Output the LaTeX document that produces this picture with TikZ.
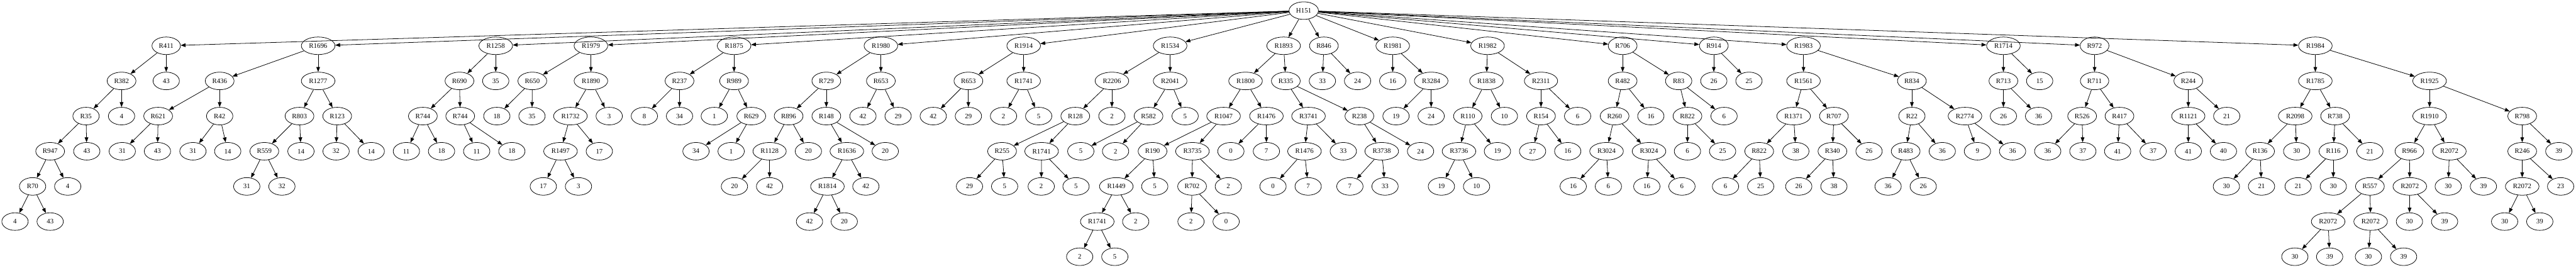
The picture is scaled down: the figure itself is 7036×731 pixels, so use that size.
\documentclass[tikz,border=0pt]{standalone}
\usepackage{fontspec}
\setmainfont{Liberation Serif}
\usetikzlibrary{shapes.geometric,arrows.meta}
\tikzset{
 nd/.style={draw, ellipse, line width=1pt, minimum width=54pt, minimum height=36pt, inner xsep=5.7pt, inner ysep=2pt, font=\fontsize{14pt}{16pt}\selectfont},
 lnk/.style={draw, line width=1pt, -{Triangle[length=10pt,width=7.5pt]}}
}
\newcommand\gvn[4]{\node[nd] (#1) at (#3,#4) {#2};}
\newcommand\gve[2]{\draw[lnk] (#1) -- (#2);}
\begin{document}
\begin{tikzpicture}[x=0.75pt,y=-0.75pt]
\useasboundingbox (0,0) rectangle (7036,731);
\gvn{r}{H151}{3561}{29}
% A
\gvn{a}{R411}{454}{125}
\gvn{a1}{R382}{332}{221}
\gvn{a11}{R35}{235}{317}
\gvn{a111}{R947}{137}{413}
\gvn{a1111}{R70}{89}{509}
\gvn{a11111}{4}{41}{605}
\gvn{a11112}{43}{137}{605}
\gvn{a1112}{4}{185}{509}
\gvn{a112}{43}{237}{413}
\gvn{a12}{4}{332}{317}
\gvn{a2}{43}{454}{221}
\gve{r}{a}\gve{a}{a1}\gve{a}{a2}\gve{a1}{a11}\gve{a1}{a12}\gve{a11}{a111}\gve{a11}{a112}
\gve{a111}{a1111}\gve{a111}{a1112}\gve{a1111}{a11111}\gve{a1111}{a11112}
% B
\gvn{b}{R1696}{869}{125}
\gvn{b1}{R436}{600}{221}
\gvn{b11}{R621}{432}{317}
\gvn{b111}{31}{334}{413}
\gvn{b112}{43}{430}{413}
\gvn{b12}{R42}{600}{317}
\gvn{b121}{31}{527}{413}
\gvn{b122}{14}{622}{413}
\gvn{b2}{R1277}{869}{221}
\gvn{b21}{R803}{818}{317}
\gvn{b211}{R559}{722}{413}
\gvn{b2111}{31}{674}{509}
\gvn{b2112}{32}{770}{509}
\gvn{b212}{14}{822}{413}
\gvn{b22}{R123}{921}{317}
\gvn{b221}{32}{918}{413}
\gvn{b222}{14}{1014}{413}
\gve{r}{b}\gve{b}{b1}\gve{b}{b2}\gve{b1}{b11}\gve{b1}{b12}\gve{b11}{b111}\gve{b11}{b112}
\gve{b12}{b121}\gve{b12}{b122}\gve{b2}{b21}\gve{b2}{b22}\gve{b21}{b211}\gve{b21}{b212}
\gve{b211}{b2111}\gve{b211}{b2112}\gve{b22}{b221}\gve{b22}{b222}
% C
\gvn{c}{R1258}{1354}{125}
\gvn{c1}{R690}{1255}{221}
\gvn{c11}{R744}{1155}{317}
\gvn{c111}{11}{1110}{413}
\gvn{c112}{18}{1206}{413}
\gvn{c12}{R744}{1257}{317}
\gvn{c121}{11}{1302}{413}
\gvn{c122}{18}{1398}{413}
\gvn{c2}{35}{1354}{221}
\gve{r}{c}\gve{c}{c1}\gve{c}{c2}\gve{c1}{c11}\gve{c1}{c12}\gve{c11}{c111}\gve{c11}{c112}
\gve{c12}{c121}\gve{c12}{c122}
% D
\gvn{d}{R1979}{1614}{125}
\gvn{d1}{R650}{1454}{221}
\gvn{d11}{18}{1357}{317}
\gvn{d12}{35}{1453}{317}
\gvn{d2}{R1890}{1614}{221}
\gvn{d21}{R1732}{1558}{317}
\gvn{d211}{R1497}{1531}{413}
\gvn{d2111}{17}{1484}{509}
\gvn{d2112}{3}{1580}{509}
\gvn{d212}{17}{1637}{413}
\gvn{d22}{3}{1664}{317}
\gve{r}{d}\gve{d}{d1}\gve{d}{d2}\gve{d1}{d11}\gve{d1}{d12}\gve{d2}{d21}\gve{d2}{d22}
\gve{d21}{d211}\gve{d21}{d212}\gve{d211}{d2111}\gve{d211}{d2112}
% E
\gvn{e}{R1875}{2005}{125}
\gvn{e1}{R237}{1856}{221}
\gvn{e11}{8}{1760}{317}
\gvn{e12}{34}{1856}{317}
\gvn{e2}{R989}{2005}{221}
\gvn{e21}{1}{1951}{317}
\gvn{e22}{R629}{2052}{317}
\gvn{e221}{34}{1901}{413}
\gvn{e222}{1}{1997}{413}
\gve{r}{e}\gve{e}{e1}\gve{e}{e2}\gve{e1}{e11}\gve{e1}{e12}\gve{e2}{e21}\gve{e2}{e22}
\gve{e22}{e221}\gve{e22}{e222}
% F
\gvn{f}{R1980}{2406}{125}
\gvn{f1}{R729}{2257}{221}
\gvn{f11}{R896}{2154}{317}
\gvn{f111}{R1128}{2102}{413}
\gvn{f1111}{20}{2006}{509}
\gvn{f1112}{42}{2102}{509}
\gvn{f112}{20}{2208}{413}
\gvn{f12}{R148}{2257}{317}
\gvn{f121}{R1636}{2313}{413}
\gvn{f1211}{R1814}{2260}{509}
\gvn{f12111}{42}{2211}{605}
\gvn{f12112}{20}{2306}{605}
\gvn{f1212}{42}{2365}{509}
\gvn{f122}{20}{2418}{413}
\gvn{f2}{R653}{2406}{221}
\gvn{f21}{42}{2357}{317}
\gvn{f22}{29}{2453}{317}
\gve{r}{f}\gve{f}{f1}\gve{f}{f2}\gve{f1}{f11}\gve{f1}{f12}\gve{f11}{f111}\gve{f11}{f112}
\gve{f111}{f1111}\gve{f111}{f1112}\gve{f12}{f121}\gve{f12}{f122}\gve{f121}{f1211}\gve{f121}{f1212}
\gve{f1211}{f12111}\gve{f1211}{f12112}\gve{f2}{f21}\gve{f2}{f22}
% G
\gvn{g}{R1914}{2796}{125}
\gvn{g1}{R653}{2645}{221}
\gvn{g11}{42}{2549}{317}
\gvn{g12}{29}{2645}{317}
\gvn{g2}{R1741}{2796}{221}
\gvn{g21}{2}{2741}{317}
\gvn{g22}{5}{2837}{317}
\gve{r}{g}\gve{g}{g1}\gve{g}{g2}\gve{g1}{g11}\gve{g1}{g12}\gve{g2}{g21}\gve{g2}{g22}
% H
\gvn{h}{R1534}{3196}{125}
\gvn{h1}{R2206}{3037}{221}
\gvn{h11}{R128}{2937}{317}
\gvn{h111}{R255}{2737}{413}
\gvn{h1111}{29}{2648}{509}
\gvn{h1112}{5}{2744}{509}
\gvn{h112}{R1741}{2845}{413}
\gvn{h1121}{2}{2844}{509}
\gvn{h1122}{5}{2939}{509}
\gvn{h12}{2}{3037}{317}
\gvn{h2}{R2041}{3196}{221}
\gvn{h21}{R582}{3137}{317}
\gvn{h211}{5}{2952}{413}
\gvn{h212}{2}{3047}{413}
\gvn{h22}{5}{3237}{317}
\gve{r}{h}\gve{h}{h1}\gve{h}{h2}\gve{h1}{h11}\gve{h1}{h12}\gve{h11}{h111}\gve{h11}{h112}
\gve{h111}{h1111}\gve{h111}{h1112}\gve{h112}{h1121}\gve{h112}{h1122}\gve{h2}{h21}\gve{h2}{h22}
\gve{h21}{h211}\gve{h21}{h212}
% I
\gvn{i}{R1893}{3506}{125}
\gvn{i1}{R1800}{3402}{221}
\gvn{i11}{R1047}{3342}{317}
\gvn{i111}{R190}{3148}{413}
\gvn{i1111}{R1449}{3049}{509}
\gvn{i11111}{R1741}{2997}{605}
\gvn{i111111}{2}{2949}{701}
\gvn{i111112}{5}{3045}{701}
\gvn{i11112}{2}{3102}{605}
\gvn{i1112}{5}{3154}{509}
\gvn{i112}{R3735}{3257}{413}
\gvn{i1121}{R702}{3256}{509}
\gvn{i11211}{2}{3253}{605}
\gvn{i11212}{0}{3349}{605}
\gvn{i1122}{2}{3355}{509}
\gvn{i12}{R1476}{3459}{317}
\gvn{i121}{0}{3362}{413}
\gvn{i122}{7}{3459}{413}
\gvn{i2}{R335}{3512}{221}
\gvn{i21}{R3741}{3574}{317}
\gvn{i211}{R1476}{3563}{413}
\gvn{i2111}{0}{3477}{509}
\gvn{i2112}{7}{3573}{509}
\gvn{i212}{33}{3669}{413}
\gvn{i22}{R238}{3713}{317}
\gvn{i221}{R3738}{3774}{413}
\gvn{i2211}{7}{3687}{509}
\gvn{i2212}{33}{3783}{509}
\gvn{i222}{24}{3880}{413}
\gve{r}{i}\gve{i}{i1}\gve{i}{i2}\gve{i1}{i11}\gve{i1}{i12}\gve{i11}{i111}\gve{i11}{i112}
\gve{i111}{i1111}\gve{i111}{i1112}\gve{i1111}{i11111}\gve{i1111}{i11112}
\gve{i11111}{i111111}\gve{i11111}{i111112}\gve{i112}{i1121}\gve{i112}{i1122}
\gve{i1121}{i11211}\gve{i1121}{i11212}\gve{i12}{i121}\gve{i12}{i122}
\gve{i2}{i21}\gve{i2}{i22}\gve{i21}{i211}\gve{i21}{i212}\gve{i211}{i2111}\gve{i211}{i2112}
\gve{i22}{i221}\gve{i22}{i222}\gve{i221}{i2211}\gve{i221}{i2212}
% J
\gvn{j}{R846}{3616}{125}
\gvn{j1}{33}{3612}{221}
\gvn{j2}{24}{3708}{221}
\gve{r}{j}\gve{j}{j1}\gve{j}{j2}
% K
\gvn{k}{R1981}{3804}{125}
\gvn{k1}{16}{3804}{221}
\gvn{k2}{R3284}{3909}{221}
\gvn{k21}{19}{3813}{317}
\gvn{k22}{24}{3909}{317}
\gve{r}{k}\gve{k}{k1}\gve{k}{k2}\gve{k2}{k21}\gve{k2}{k22}
% L
\gvn{l}{R1982}{4063}{125}
\gvn{l1}{R1838}{4060}{221}
\gvn{l11}{R110}{4009}{317}
\gvn{l111}{R3736}{3985}{413}
\gvn{l1111}{19}{3937}{509}
\gvn{l1112}{10}{4033}{509}
\gvn{l112}{19}{4090}{413}
\gvn{l12}{10}{4109}{317}
\gvn{l2}{R2311}{4209}{221}
\gvn{l21}{R154}{4209}{317}
\gvn{l211}{27}{4186}{413}
\gvn{l212}{16}{4282}{413}
\gvn{l22}{6}{4309}{317}
\gve{r}{l}\gve{l}{l1}\gve{l}{l2}\gve{l1}{l11}\gve{l1}{l12}\gve{l11}{l111}\gve{l11}{l112}
\gve{l111}{l1111}\gve{l111}{l1112}\gve{l2}{l21}\gve{l2}{l22}\gve{l21}{l211}\gve{l21}{l212}
% M
\gvn{m}{R706}{4432}{125}
\gvn{m1}{R482}{4432}{221}
\gvn{m11}{R260}{4410}{317}
\gvn{m111}{R3024}{4388}{413}
\gvn{m1111}{16}{4297}{509}
\gvn{m1112}{6}{4393}{509}
\gvn{m112}{R3024}{4504}{413}
\gvn{m1121}{16}{4498}{509}
\gvn{m1122}{6}{4594}{509}
\gvn{m12}{16}{4509}{317}
\gvn{m2}{R83}{4585}{221}
\gvn{m21}{R822}{4609}{317}
\gvn{m211}{6}{4609}{413}
\gvn{m212}{25}{4705}{413}
\gvn{m22}{6}{4709}{317}
\gve{r}{m}\gve{m}{m1}\gve{m}{m2}\gve{m1}{m11}\gve{m1}{m12}\gve{m11}{m111}\gve{m11}{m112}
\gve{m111}{m1111}\gve{m111}{m1112}\gve{m112}{m1121}\gve{m112}{m1122}
\gve{m2}{m21}\gve{m2}{m22}\gve{m21}{m211}\gve{m21}{m212}
% N
\gvn{n}{R914}{4681}{125}
\gvn{n1}{26}{4681}{221}
\gvn{n2}{25}{4777}{221}
\gve{r}{n}\gve{n}{n1}\gve{n}{n2}
% O
\gvn{o}{R1983}{4926}{125}
\gvn{o1}{R1561}{4926}{221}
\gvn{o11}{R1371}{4899}{317}
\gvn{o111}{R822}{4805}{413}
\gvn{o1111}{6}{4713}{509}
\gvn{o1112}{25}{4809}{509}
\gvn{o112}{38}{4905}{413}
\gvn{o12}{R707}{5009}{317}
\gvn{o121}{R340}{5005}{413}
\gvn{o1211}{26}{4913}{509}
\gvn{o1212}{38}{5009}{509}
\gvn{o122}{26}{5105}{413}
\gvn{o2}{R834}{5222}{221}
\gvn{o21}{R22}{5222}{317}
\gvn{o211}{R483}{5205}{413}
\gvn{o2111}{36}{5157}{509}
\gvn{o2112}{26}{5253}{509}
\gvn{o212}{36}{5305}{413}
\gvn{o22}{R2774}{5367}{317}
\gvn{o221}{9}{5401}{413}
\gvn{o222}{36}{5497}{413}
\gve{r}{o}\gve{o}{o1}\gve{o}{o2}\gve{o1}{o11}\gve{o1}{o12}\gve{o11}{o111}\gve{o11}{o112}
\gve{o111}{o1111}\gve{o111}{o1112}\gve{o12}{o121}\gve{o12}{o122}\gve{o121}{o1211}\gve{o121}{o1212}
\gve{o2}{o21}\gve{o2}{o22}\gve{o21}{o211}\gve{o21}{o212}\gve{o211}{o2111}\gve{o211}{o2112}
\gve{o22}{o221}\gve{o22}{o222}
% P
\gvn{p}{R1714}{5472}{125}
\gvn{p1}{R713}{5472}{221}
\gvn{p11}{26}{5472}{317}
\gvn{p12}{36}{5568}{317}
\gvn{p2}{15}{5571}{221}
\gve{r}{p}\gve{p}{p1}\gve{p}{p2}\gve{p1}{p11}\gve{p1}{p12}
% Q
\gvn{q}{R972}{5721}{125}
\gvn{q1}{R711}{5721}{221}
\gvn{q11}{R526}{5687}{317}
\gvn{q111}{36}{5593}{413}
\gvn{q112}{37}{5689}{413}
\gvn{q12}{R417}{5789}{317}
\gvn{q121}{41}{5784}{413}
\gvn{q122}{37}{5881}{413}
\gvn{q2}{R244}{5977}{221}
\gvn{q21}{R1121}{5977}{317}
\gvn{q211}{41}{5977}{413}
\gvn{q212}{40}{6073}{413}
\gvn{q22}{21}{6082}{317}
\gve{r}{q}\gve{q}{q1}\gve{q}{q2}\gve{q1}{q11}\gve{q1}{q12}\gve{q11}{q111}\gve{q11}{q112}
\gve{q12}{q121}\gve{q12}{q122}\gve{q2}{q21}\gve{q2}{q22}\gve{q21}{q211}\gve{q21}{q212}
% S
\gvn{s}{R1984}{6324}{125}
\gvn{s1}{R1785}{6324}{221}
\gvn{s11}{R2098}{6269}{317}
\gvn{s111}{R136}{6173}{413}
\gvn{s1111}{30}{6081}{509}
\gvn{s1112}{21}{6177}{509}
\gvn{s112}{30}{6273}{413}
\gvn{s12}{R738}{6378}{317}
\gvn{s121}{R116}{6373}{413}
\gvn{s1211}{21}{6277}{509}
\gvn{s1212}{30}{6373}{509}
\gvn{s122}{21}{6473}{413}
\gvn{s2}{R1925}{6636}{221}
\gvn{s21}{R1910}{6636}{317}
\gvn{s211}{R966}{6581}{413}
\gvn{s2111}{R557}{6473}{509}
\gvn{s21111}{R2072}{6359}{605}
\gvn{s211111}{30}{6268}{701}
\gvn{s211112}{39}{6363}{701}
\gvn{s21112}{R2072}{6475}{605}
\gvn{s211121}{30}{6469}{701}
\gvn{s211122}{39}{6565}{701}
\gvn{s2112}{R2072}{6582}{509}
\gvn{s21121}{30}{6581}{605}
\gvn{s21122}{39}{6677}{605}
\gvn{s212}{R2072}{6690}{413}
\gvn{s2121}{30}{6687}{509}
\gvn{s2122}{39}{6783}{509}
\gvn{s22}{R798}{6889}{317}
\gvn{s221}{R246}{6889}{413}
\gvn{s2211}{R2072}{6889}{509}
\gvn{s22111}{30}{6841}{605}
\gvn{s22112}{39}{6937}{605}
\gvn{s2212}{23}{6994}{509}
\gvn{s222}{39}{6989}{413}
\gve{r}{s}\gve{s}{s1}\gve{s}{s2}\gve{s1}{s11}\gve{s1}{s12}\gve{s11}{s111}\gve{s11}{s112}
\gve{s111}{s1111}\gve{s111}{s1112}\gve{s12}{s121}\gve{s12}{s122}\gve{s121}{s1211}\gve{s121}{s1212}
\gve{s2}{s21}\gve{s2}{s22}\gve{s21}{s211}\gve{s21}{s212}\gve{s211}{s2111}\gve{s211}{s2112}
\gve{s2111}{s21111}\gve{s2111}{s21112}\gve{s21111}{s211111}\gve{s21111}{s211112}
\gve{s21112}{s211121}\gve{s21112}{s211122}\gve{s2112}{s21121}\gve{s2112}{s21122}
\gve{s212}{s2121}\gve{s212}{s2122}\gve{s22}{s221}\gve{s22}{s222}\gve{s221}{s2211}\gve{s221}{s2212}
\gve{s2211}{s22111}\gve{s2211}{s22112}
\end{tikzpicture}
\end{document}
